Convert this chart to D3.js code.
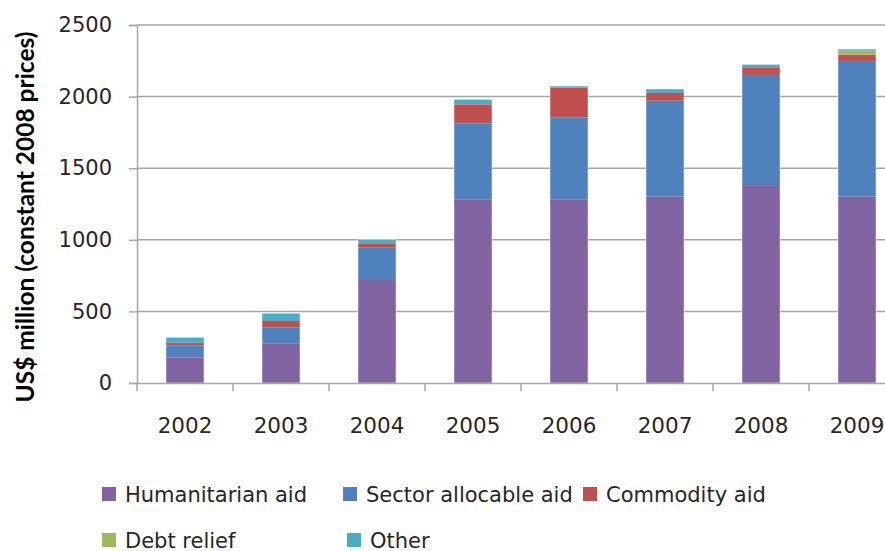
<!DOCTYPE html>
<html><head><meta charset="utf-8">
<script src="https://cdn.jsdelivr.net/npm/d3@7"></script>
<style>body{margin:0;background:#fff;overflow:hidden}</style>
</head><body><svg id="c" width="885" height="551"></svg>
<script>
const years = ["2002","2003","2004","2005","2006","2007","2008","2009"];
const humanitarian = [177, 274, 719, 1283, 1283, 1301, 1376, 1301];
const sectorAllocable = [86, 115, 226, 528, 572, 670, 775, 948];
const commodity = [18, 44, 26, 135, 207, 54, 54, 44];
const debtRelief = [0, 0, 0, 0, 0, 0, 0, 28];
const other = [38, 54, 32, 35, 12, 28, 20, 11];
const yTicks = [0, 500, 1000, 1500, 2000, 2500];
const seriesNames = ["Humanitarian aid","Sector allocable aid","Commodity aid","Debt relief","Other"];
const seriesColors = ["#8064A2","#4F81BD","#C0504D","#9BBB59","#4BACC6"];
const seriesValues = [humanitarian, sectorAllocable, commodity, debtRelief, other];

const svg = d3.select("#c");
const x0 = 137, yBottom = 383, yTop = 25;
const gridColor = "#a6a6a6", textColor = "#262626";
const bodyFont = "'DejaVu Sans', sans-serif";
const x = d3.scaleBand().domain(years).range([x0, x0 + 96*8]).paddingInner(0.604).paddingOuter(0.302);
const y = d3.scaleLinear().domain([0, 2500]).range([yBottom, yTop]);

// gridlines
svg.append("g").selectAll("line").data(yTicks.filter(t=>t>0)).join("line")
  .attr("x1", x0).attr("x2", 905).attr("y1", d=>y(d)).attr("y2", d=>y(d))
  .attr("stroke", gridColor).attr("stroke-width", 1.5);

// stacked bars
const rows = years.map((yr,i)=>{const o={year:yr}; seriesNames.forEach((n,k)=>o[n]=seriesValues[k][i]); return o;});
const stack = d3.stack().keys(seriesNames)(rows);
svg.append("g").selectAll("g").data(stack).join("g")
  .attr("fill", (d,i)=>seriesColors[i])
  .selectAll("rect").data(d=>d.filter(s=>s[1]-s[0]>0)).join("rect")
  .attr("x", d=>x(d.data.year)).attr("width", x.bandwidth())
  .attr("y", d=>y(d[1])).attr("height", d=>y(d[0])-y(d[1]));
const total = d=>seriesNames.reduce((s,n)=>s+d[n],0);
svg.append("g").selectAll("rect").data(rows).join("rect")
  .attr("x", d=>x(d.year)).attr("width", x.bandwidth())
  .attr("y", d=>y(total(d))).attr("height", d=>yBottom - y(total(d)))
  .attr("fill","none").attr("stroke","rgba(255,255,255,0.45)").attr("stroke-width",1);

// y axis
const yAxis = svg.append("g").attr("transform", `translate(${x0},0)`)
  .call(d3.axisLeft(y).tickValues(yTicks).tickFormat(d3.format("d")).tickSize(8).tickPadding(17));
yAxis.select(".domain").attr("stroke",gridColor).attr("stroke-width",1.5);
yAxis.selectAll(".tick line").attr("stroke",gridColor).attr("stroke-width",1.5);
yAxis.selectAll(".tick text").style("font-size","21px").style("font-family",bodyFont).attr("fill",textColor);

// x axis
const xAxis = svg.append("g").attr("transform", `translate(0,${yBottom})`)
  .call(d3.axisBottom(x).tickSize(0));
xAxis.select(".domain").attr("stroke",gridColor).attr("stroke-width",1.5);
xAxis.selectAll(".tick text").style("font-size","21.5px").style("font-family",bodyFont).attr("fill",textColor)
  .attr("y", 50).attr("dy", 0);
svg.append("g").selectAll("line").data(d3.range(years.length+1)).join("line")
  .attr("x1", i=>x0 + i*x.step()).attr("x2", i=>x0 + i*x.step())
  .attr("y1", yBottom).attr("y2", yBottom+8)
  .attr("stroke",gridColor).attr("stroke-width",1.5);

// y title
svg.append("text").attr("transform","translate(34,217) rotate(-90)")
  .attr("text-anchor","middle").attr("fill","#000")
  .style("font-family","Lato, sans-serif").style("font-size","24.5px").style("font-weight","bold")
  .text("US$ million (constant 2008 prices)");

// legend
const legendPos = [[102,494],[343,494],[583,494],[102,540],[347,540]];
const lg = svg.append("g").selectAll("g").data(seriesNames).join("g")
  .attr("transform",(d,i)=>`translate(${legendPos[i][0]},${legendPos[i][1]})`);
lg.append("rect").attr("x",0).attr("y",-7).attr("width",14).attr("height",14).attr("fill",(d,i)=>seriesColors[i]);
lg.append("text").attr("x",23).attr("y",0).attr("dy","0.36em")
  .style("font-size","21px").style("font-family",bodyFont).attr("fill",textColor).text(d=>d);
</script></body></html>
